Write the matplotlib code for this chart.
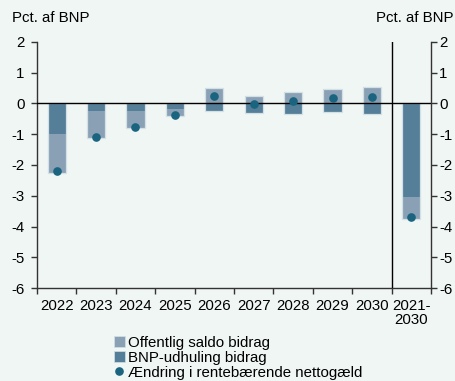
import matplotlib
matplotlib.use("Agg")
import matplotlib.pyplot as plt
from matplotlib.patches import Patch
from matplotlib.lines import Line2D
import numpy as np

plt.rcParams['font.family'] = ['Liberation Sans', 'DejaVu Sans']

categories = ["2022", "2023", "2024", "2025", "2026", "2027", "2028", "2029", "2030", "2021-\n2030"]
saldo_bidrag = [-1.25, -0.87, -0.57, -0.23, 0.49, 0.25, 0.37, 0.47, 0.52, -0.70]
bnp_bidrag = [-1.00, -0.25, -0.24, -0.17, -0.26, -0.30, -0.33, -0.29, -0.33, -3.05]
aendring_gaeld = [-2.20, -1.08, -0.77, -0.36, 0.24, -0.01, 0.07, 0.17, 0.22, -3.70]
y_ticks = [2, 1, 0, -1, -2, -3, -4, -5, -6]

bg = "#eff6f4"
c_light = "#8aa0b4"
c_dark = "#557e98"
c_dot = "#1a6480"
c_edge = "#d3e1e6"
fs = 10.8

fig = plt.figure(figsize=(4.55, 3.81), dpi=100, facecolor=bg)
ax = fig.add_axes([0.0813, 0.244, 0.866, 0.646], facecolor=bg)

x = np.arange(len(categories)) + 0.5
w = 0.46
saldo = np.array(saldo_bidrag)
bnp = np.array(bnp_bidrag)

# BNP contribution drawn from zero; saldo stacked beyond it when same sign
bnp_bottom = np.zeros_like(bnp)
saldo_bottom = np.where(np.sign(saldo) == np.sign(bnp), bnp, 0.0)

ax.bar(x, bnp, w, bottom=bnp_bottom, color=c_dark, linewidth=0, zorder=2)
ax.bar(x, saldo, w, bottom=saldo_bottom, color=c_light, linewidth=0, zorder=2)

# thin pale outline around each full column
lo = np.minimum.reduce([bnp_bottom + np.minimum(bnp, 0), saldo_bottom + np.minimum(saldo, 0),
                        np.zeros_like(bnp)])
hi = np.maximum.reduce([bnp_bottom + np.maximum(bnp, 0), saldo_bottom + np.maximum(saldo, 0),
                        np.zeros_like(bnp)])
ax.bar(x, hi - lo, w, bottom=lo, facecolor="none", edgecolor=c_edge, linewidth=0.9, zorder=2.5)

ax.plot(x, aendring_gaeld, linestyle="none", marker="o", markersize=5.2,
        color=c_dot, zorder=4)

ax.axhline(0, color="black", linewidth=1.0, zorder=3)
ax.axvline(9, color="black", linewidth=1.0, zorder=3)

ax.set_xlim(0, 10)
ax.set_ylim(-6, 2)
ax.set_yticks(y_ticks)
ax.set_yticklabels([str(t) for t in y_ticks])

ax.set_xticks(np.arange(0, 11))
ax.set_xticklabels([""] * 11)
ax.set_xticks(x, minor=True)
ax.set_xticklabels(categories, minor=True, linespacing=0.95)
ax.tick_params(axis="x", which="major", length=4, width=1, color="#333333", direction="out")
ax.tick_params(axis="x", which="minor", length=0, pad=8, labelsize=fs)
ax.tick_params(axis="y", length=4, width=1, color="#333333", direction="out", labelsize=fs, pad=5)

for s in ["top", "right"]:
    ax.spines[s].set_visible(False)
for s in ["left", "bottom"]:
    ax.spines[s].set_color("#333333")
    ax.spines[s].set_linewidth(1.0)

ax2 = ax.twinx()
ax2.set_ylim(-6, 2)
ax2.set_yticks(y_ticks)
ax2.set_yticklabels([str(t) for t in y_ticks])
ax2.tick_params(axis="y", length=4, width=1, color="#333333", direction="out", labelsize=fs, pad=2)
for s in ["top", "left", "bottom"]:
    ax2.spines[s].set_visible(False)
ax2.spines["right"].set_color("#333333")
ax2.spines["right"].set_linewidth(1.0)

fig.text(12 / 455, 1 - 18 / 381, "Pct. af BNP", fontsize=fs, va="center", ha="left")
fig.text(454 / 455, 1 - 18 / 381, "Pct. af BNP", fontsize=fs, va="center", ha="right")

handles = [
    Patch(facecolor=c_light, edgecolor=c_edge, linewidth=0.5),
    Patch(facecolor=c_dark, edgecolor=c_edge, linewidth=0.5),
    Line2D([], [], linestyle="none", marker="o", markersize=5.2, color=c_dot),
]
labels = ["Offentlig saldo bidrag", "BNP-udhuling bidrag", "Ændring i rentebærende nettogæld"]
fig.legend(handles, labels, loc="upper left", bbox_to_anchor=(114 / 455, 1 - 336 / 381),
           frameon=False, fontsize=fs, handlelength=0.72, handleheight=0.72,
           handletextpad=0.2, labelspacing=0.05, borderaxespad=0, borderpad=0)

fig.savefig("out.png", dpi=100, facecolor=bg)
